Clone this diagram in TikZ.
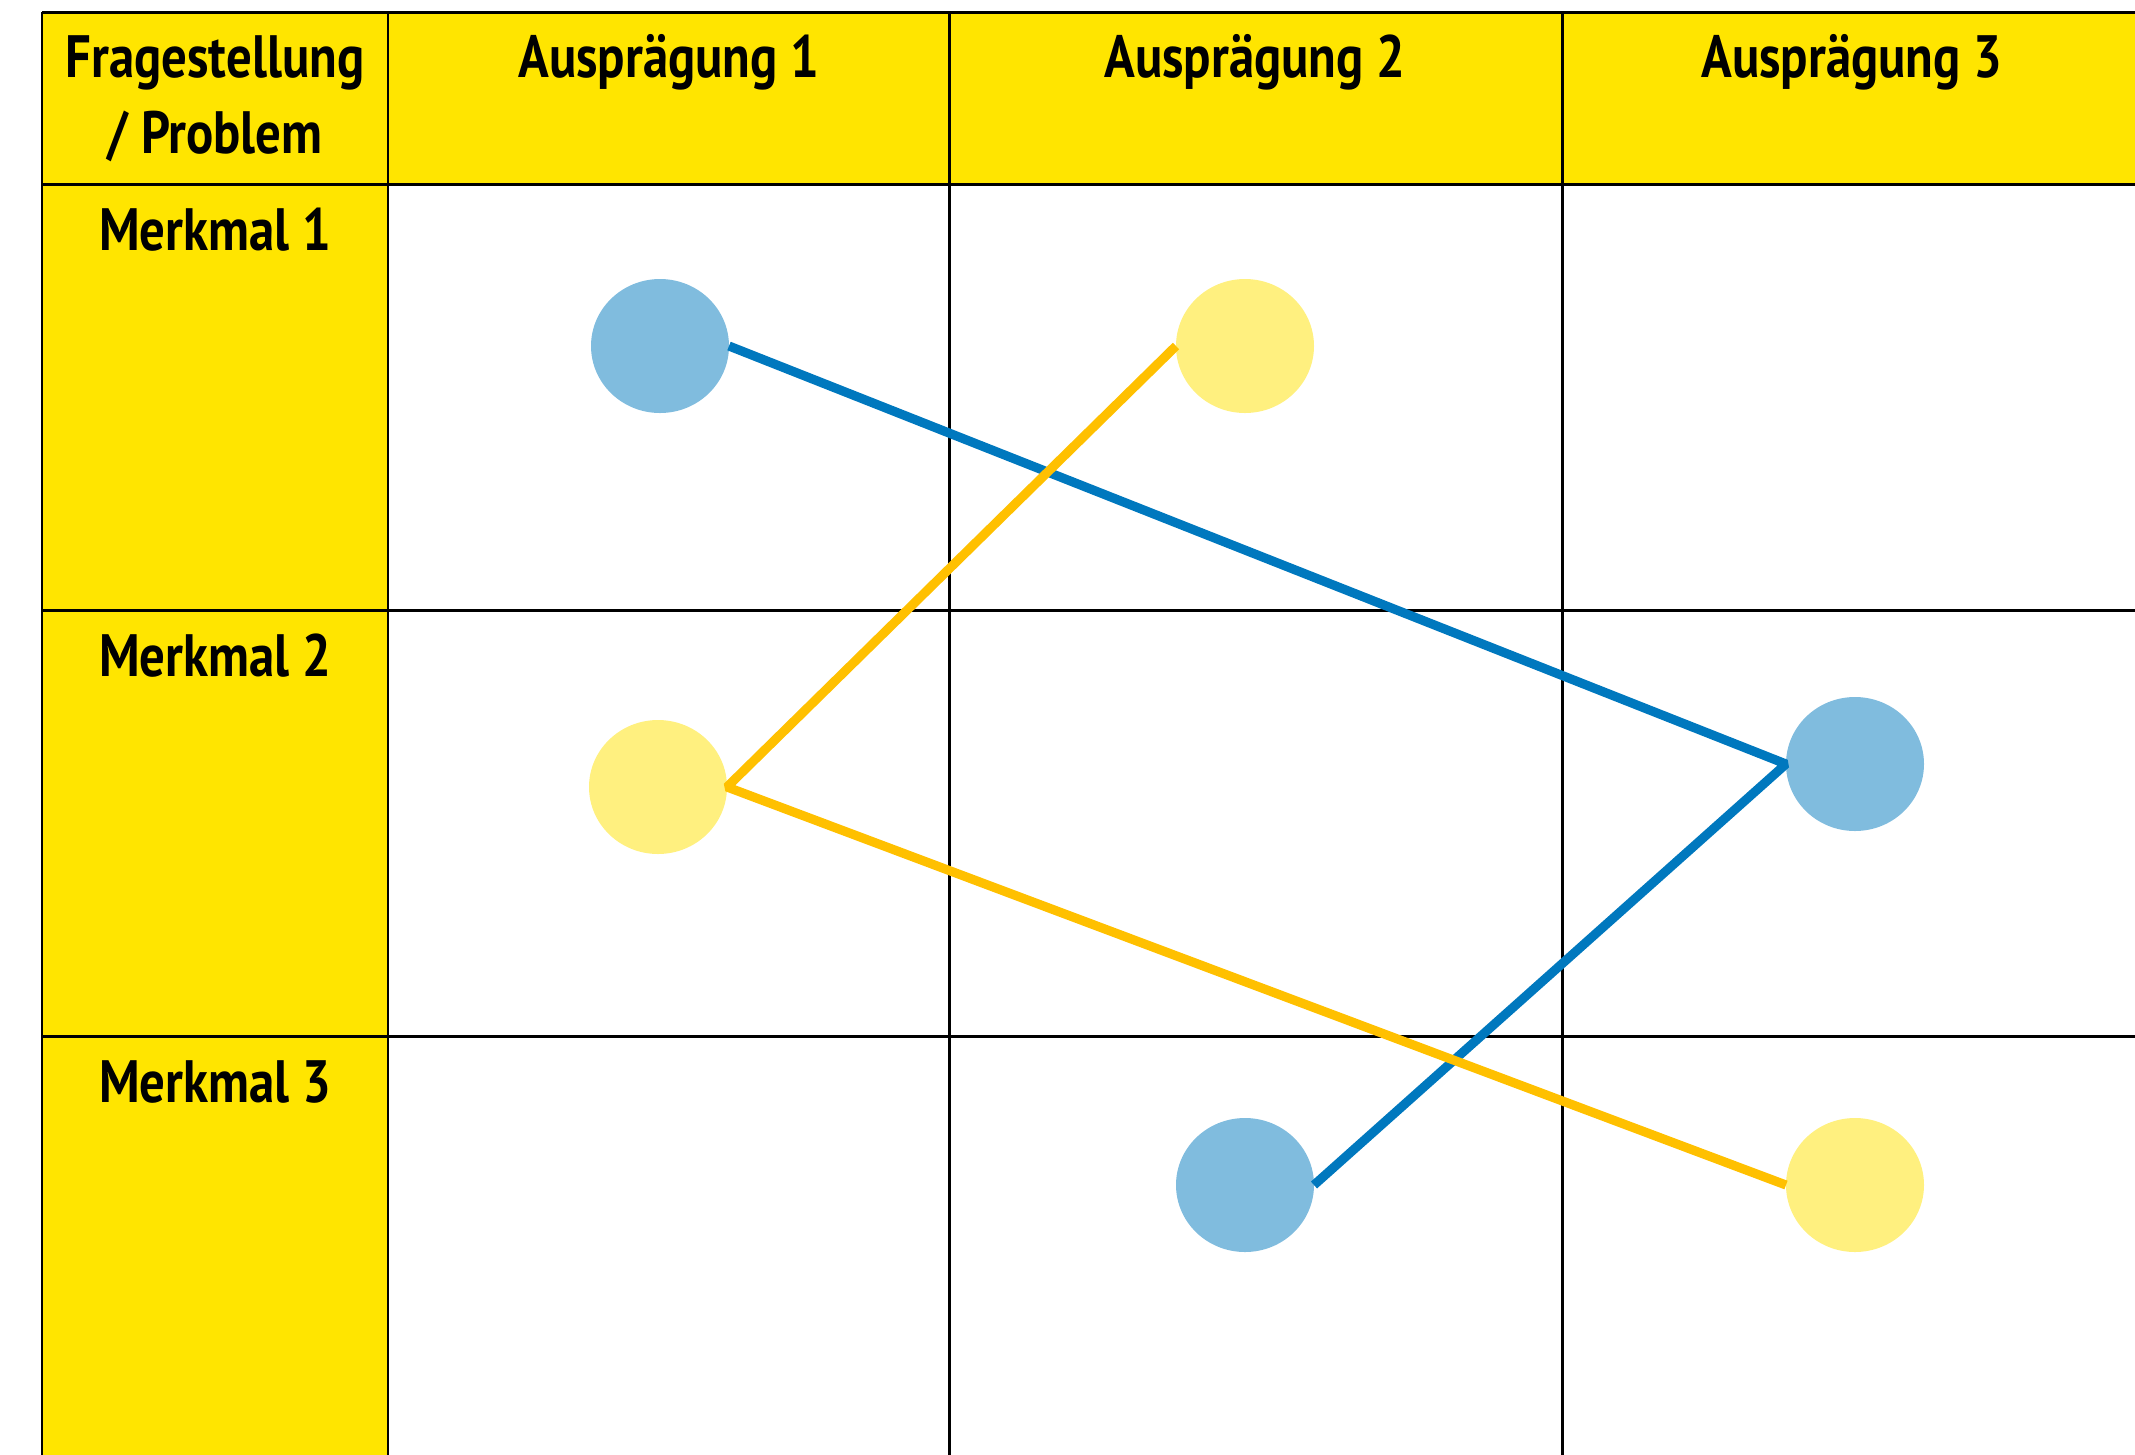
\documentclass[tikz,border=0pt]{standalone}
\usepackage{fontspec}
\setmainfont{PT Sans}[FakeStretch=0.85]
\newcommand*{\cellfont}{\bfseries\fontsize{17}{21.5}\selectfont}
\definecolor{head}{HTML}{FFE500}
\definecolor{blueline}{HTML}{0078BE}
\definecolor{yellowline}{HTML}{FFC000}
\definecolor{bluedot}{HTML}{80BCDE}
\definecolor{yellowdot}{HTML}{FFF07F}
\usetikzlibrary{shapes.geometric}
\tikzstyle{base}=[inner sep=0pt, outer sep=0pt]
\tikzstyle{grid}=[black, line width=0.85pt]
\tikzstyle{label}=[anchor=base, align=center, font=\cellfont]
\tikzstyle{dot}=[ellipse, minimum width=1.38cm, minimum height=1.34cm]
\tikzstyle{link}=[line width=2.6pt, line join=bevel]

\begin{document}
\begin{tikzpicture}[base]
    \path [use as bounding box] (0,0) rectangle (21.35,-14.54);
    % yellow header row and first column
    \fill [head] (0.42,-0.12) rectangle (21.40,-1.84);
    \fill [head] (0.42,-1.84) rectangle (3.88,-14.60);
    % grid
    \foreach \x in {0.42,3.88,9.49,15.62}
        \draw [grid] (\x,-0.12) -- (\x,-14.60);
    \foreach \y in {-0.12,-1.84,-6.10,-10.36}
        \draw [grid] (0.42,\y) -- (21.40,\y);
    % labels (base of a two-line node is its last line)
    \node [label] (frage) at (2.15,-1.53) {Fragestellung\\/ Problem};
    \node [label] (auspr1) at (6.69,-0.77) {Ausprägung 1};
    \node [label] (auspr2) at (12.55,-0.77) {Ausprägung 2};
    \node [label] (auspr3) at (18.52,-0.77) {Ausprägung 3};
    \node [label] (merk1) at (2.15,-2.50) {Merkmal 1};
    \node [label] (merk2) at (2.15,-6.76) {Merkmal 2};
    \node [label] (merk3) at (2.15,-11.02) {Merkmal 3};
    % dots
    \node [dot, fill=bluedot] (blueA) at (6.60,-3.46) {};
    \node [dot, fill=bluedot] (blueB) at (18.55,-7.64) {};
    \node [dot, fill=bluedot] (blueC) at (12.45,-11.85) {};
    \node [dot, fill=yellowdot] (yellowA) at (12.45,-3.46) {};
    \node [dot, fill=yellowdot] (yellowB) at (6.58,-7.87) {};
    \node [dot, fill=yellowdot] (yellowC) at (18.55,-11.85) {};
    % connections
    \draw [link, blueline] (blueA.east) -- (blueB.west) -- (blueC.east);
    \draw [link, yellowline] (yellowA.west) -- (yellowB.east) -- (yellowC.west);
\end{tikzpicture}
\end{document}
